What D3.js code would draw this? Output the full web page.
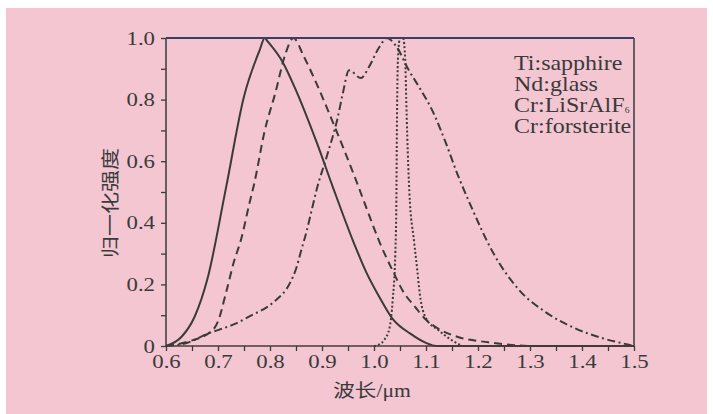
<!DOCTYPE html>
<html>
<head>
<meta charset="utf-8">
<script src="https://cdn.jsdelivr.net/npm/d3@7/dist/d3.min.js"></script>
<style>
  body { margin: 0; background: #fff; }
  svg text { font-family: "Liberation Serif", "Times New Roman", serif; fill: #3a3a3a; }
  .cjk { font-family: "Noto Sans CJK SC", sans-serif; }
</style>
</head>
<body>
<svg id="chart" width="713" height="414"></svg>
<script>
// wavelength (um) and normalised intensity
const tiWl = [0.60, 0.63, 0.655, 0.68, 0.715, 0.75, 0.78, 0.79, 0.795, 0.825, 0.85, 0.89, 0.92, 0.96, 0.985, 1.01, 1.035, 1.07, 1.10, 1.12, 1.5];
const tiVal = [0, 0.03, 0.095, 0.22, 0.51, 0.81, 0.96, 1.0, 0.99, 0.92, 0.83, 0.66, 0.52, 0.34, 0.24, 0.16, 0.09, 0.04, 0.01, 0, 0];

const ndWl = [1.00, 1.01, 1.02, 1.03, 1.036, 1.041, 1.043, 1.044, 1.046, 1.05, 1.056, 1.06, 1.062, 1.064, 1.068, 1.077, 1.083, 1.088, 1.10, 1.125, 1.15, 1.17];
const ndVal = [0, 0.005, 0.02, 0.06, 0.15, 0.30, 0.47, 0.70, 0.93, 1.0, 1.0, 0.93, 0.80, 0.68, 0.50, 0.34, 0.25, 0.17, 0.09, 0.05, 0.018, 0];

const lsWl = [0.60, 0.64, 0.69, 0.70, 0.715, 0.73, 0.745, 0.76, 0.77, 0.79, 0.81, 0.83, 0.845, 0.865, 0.89, 0.92, 0.965, 0.985, 1.01, 1.04, 1.055, 1.08, 1.10, 1.12, 1.16, 1.22, 1.26, 1.30];
const lsVal = [0, 0.013, 0.052, 0.08, 0.17, 0.27, 0.35, 0.46, 0.53, 0.70, 0.82, 0.95, 1.0, 0.94, 0.85, 0.73, 0.54, 0.45, 0.34, 0.23, 0.18, 0.125, 0.085, 0.06, 0.03, 0.012, 0.004, 0];

const foWl = [0.60, 0.64, 0.68, 0.73, 0.765, 0.805, 0.84, 0.85, 0.86, 0.87, 0.88, 0.89, 0.91, 0.93, 0.94, 0.952, 0.975, 0.99, 1.01, 1.025, 1.042, 1.067, 1.087, 1.112, 1.138, 1.16, 1.185, 1.23, 1.28, 1.33, 1.39, 1.44, 1.49, 1.50];
const foVal = [0, 0.01, 0.04, 0.07, 0.10, 0.14, 0.21, 0.25, 0.31, 0.37, 0.44, 0.51, 0.62, 0.74, 0.82, 0.895, 0.87, 0.905, 0.97, 1.0, 0.975, 0.895, 0.84, 0.765, 0.66, 0.56, 0.46, 0.30, 0.18, 0.11, 0.055, 0.025, 0.004, 0];

const legendLabels = ["Ti:sapphire", "Nd:glass", "Cr:LiSrAlF", "Cr:forsterite"];
const xTicks = d3.range(0, 19).map(i => +(0.6 + i * 0.05).toFixed(2));
const yTicks = d3.range(0, 11).map(i => +(i * 0.1).toFixed(1));

const svg = d3.select("#chart");
const ink = "#3a3a3a";

// paper background
svg.append("rect").attr("x", 6).attr("y", 8).attr("width", 701).attr("height", 406).attr("fill", "#f3c6d2");

let x = d3.scaleLinear().domain([0.6, 1.5]).range([166, 634]);
let y = d3.scaleLinear().domain([0, 1]).range([346, 38]);

// axes
let xAxis = d3.axisBottom(x).tickValues(xTicks).tickSize(5).tickSizeOuter(0)
  .tickFormat(d => Math.round(d * 100) % 10 === 0 ? d.toFixed(1) : "");
let yAxis = d3.axisLeft(y).tickValues(yTicks).tickSize(5).tickSizeOuter(0)
  .tickFormat(d => Math.round(d * 10) % 2 === 0 ? (d === 0 ? "0" : d.toFixed(1)) : "");

let gx = svg.append("g").attr("transform", "translate(0,346)").call(xAxis);
let gy = svg.append("g").attr("transform", "translate(166,0)").call(yAxis);

[gx, gy].forEach(g => {
  g.select(".domain").remove();
  g.selectAll("line").attr("stroke", ink).attr("stroke-width", 1.3);
  g.selectAll("text").attr("font-size", 19).attr("fill", ink)
    .attr("font-family", "Liberation Serif, serif");
});
gx.selectAll("text").attr("y", 0).attr("dy", null).attr("transform", "translate(0,22) scale(1.2,1)");
gy.selectAll("text").attr("x", 0).attr("transform", "translate(-11,0) scale(1.2,1)");

// curves
let line = (xs, ys) => d3.line().x((d, i) => x(xs[i])).y((d, i) => y(ys[i])).curve(d3.curveMonotoneX)(ys);

const series = [
  { xs: tiWl, ys: tiVal, dash: null },
  { xs: ndWl, ys: ndVal, dash: "2,2.2" },
  { xs: lsWl, ys: lsVal, dash: "8,5" },
  { xs: foWl, ys: foVal, dash: "8,3.5,2,3.5" }
];
series.forEach(s => {
  svg.append("path").attr("d", line(s.xs, s.ys))
    .attr("fill", "none").attr("stroke", ink).attr("stroke-width", 2)
    .attr("stroke-dasharray", s.dash);
});

// frame
svg.append("line").attr("x1", x(0.6)).attr("x2", x(0.6)).attr("y1", y(0)).attr("y2", y(1)).attr("stroke", ink).attr("stroke-width", 1.5);
svg.append("line").attr("x1", x(1.5)).attr("x2", x(1.5)).attr("y1", y(0)).attr("y2", y(1)).attr("stroke", ink).attr("stroke-width", 1.5);
svg.append("line").attr("x1", x(0.6)).attr("x2", x(1.5)).attr("y1", y(0)).attr("y2", y(0)).attr("stroke", "#4a3838").attr("stroke-width", 1.5);
svg.append("line").attr("x1", x(0.6)).attr("x2", x(1.5)).attr("y1", y(1)).attr("y2", y(1)).attr("stroke", "#38406a").attr("stroke-width", 2);

// legend text
let leg = svg.append("g");
legendLabels.forEach((t, i) => {
  let tx = leg.append("text").attr("transform", `translate(514,${70 + i * 21}) scale(1.2,1)`)
    .attr("font-size", 20).text(t);
  if (i === 2) tx.append("tspan").attr("font-size", 8).attr("dy", 1).text("6");
});

// axis titles
let xt = svg.append("text").attr("transform", "translate(372,397) scale(1.2,1)").attr("text-anchor", "middle").attr("font-size", 18);
xt.append("tspan").attr("class", "cjk").text("波长");
xt.append("tspan").text("/μm");

svg.append("text").attr("class", "cjk")
  .attr("transform", "translate(109,203) rotate(-90) scale(1,0.85)")
  .attr("text-anchor", "middle").attr("dominant-baseline", "central")
  .attr("font-size", 22).text("归一化强度");
</script>
</body>
</html>
